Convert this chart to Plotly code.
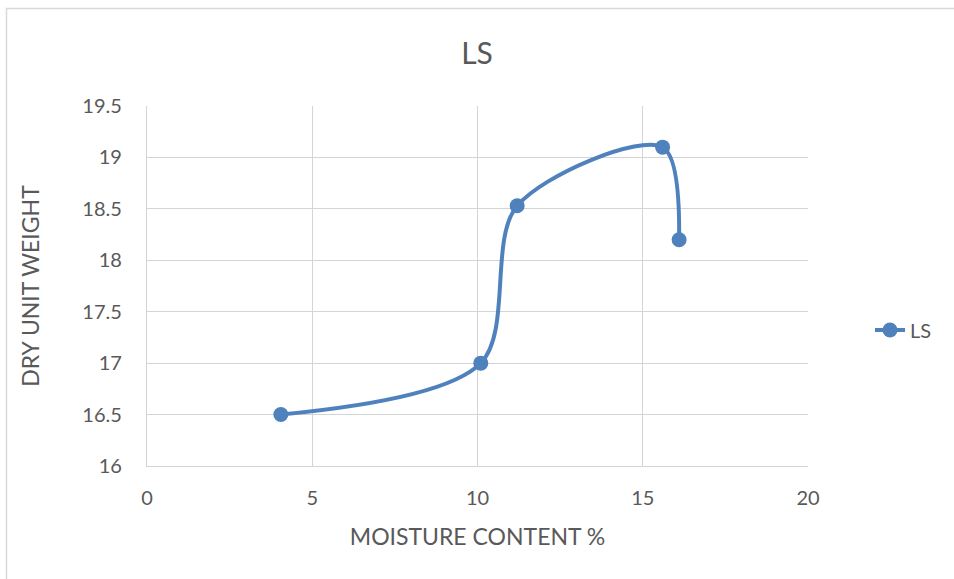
import plotly.graph_objects as go

moisture = [4.05, 10.1, 11.2, 15.6, 16.1]
dry_unit_weight = [16.5, 17.0, 18.53, 19.1, 18.2]
series_name = "LS"

blue = "#4F81BD"
grey_txt = "#595959"
font_fam = "Lato, Carlito, Calibri, sans-serif"
grid = "#D4D4D4"

fig = go.Figure()
fig.add_trace(go.Scatter(
    x=moisture, y=dry_unit_weight, name=series_name,
    mode="lines+markers",
    line=dict(color=blue, width=4, shape="spline", smoothing=0.9),
    marker=dict(color=blue, size=15),
))

L, R, T, B = 147, 146, 106, 113
W, H = 954, 579
pw, ph = W - L - R, H - T - B

fig.update_layout(
    width=W, height=H,
    margin=dict(l=L, r=R, t=T, b=B),
    paper_bgcolor="white", plot_bgcolor="white",
    font=dict(family=font_fam, color=grey_txt, size=20),
    title=dict(text="LS", x=0.5, xanchor="center", y=(H - 53) / H, yanchor="middle",
               font=dict(size=30, color=grey_txt)),
    showlegend=True,
    legend=dict(x=(870 - L) / pw, y=(466 - 330) / ph, xanchor="left", yanchor="middle",
                font=dict(size=20, color=grey_txt), bgcolor="rgba(0,0,0,0)"),
    xaxis=dict(range=[0, 20], dtick=5, showgrid=True, gridcolor=grid, gridwidth=1.3,
               showline=True, linecolor=grid, linewidth=1.3, mirror=False,
               zeroline=False, ticks="", ticklabelstandoff=14,
               title=dict(text="MOISTURE CONTENT %", standoff=20, font=dict(size=23))),
    yaxis=dict(range=[16, 19.5], dtick=0.5, showgrid=True, gridcolor=grid, gridwidth=1.3,
               showline=True, linecolor=grid, linewidth=1.3,
               zeroline=False, ticks="", ticklabelstandoff=20,
               title=dict(text="DRY UNIT WEIGHT", standoff=36, font=dict(size=23))),
    shapes=[dict(type="rect", xref="paper", yref="paper",
                 x0=(6.5 - L) / pw, x1=(W + 10 - L) / pw,
                 y0=(466 - (H + 10)) / ph, y1=(466 - 8.5) / ph,
                 line=dict(color="#D9D9D9", width=1.5), fillcolor="rgba(0,0,0,0)", layer="below")],
)

fig.write_html("out.html")
